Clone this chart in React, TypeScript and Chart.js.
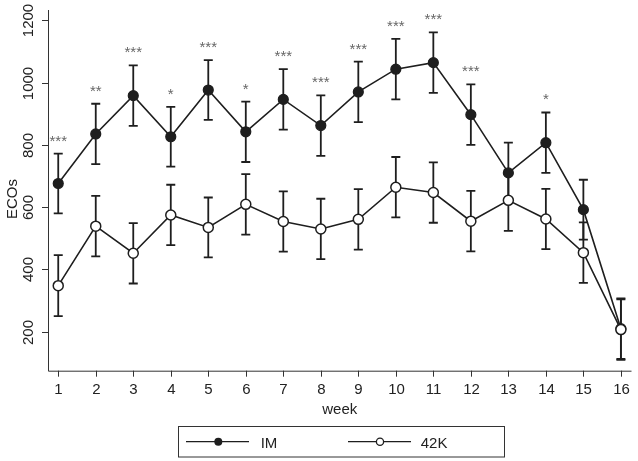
import React, { useEffect, useRef } from "react";
import { Chart, registerables } from "chart.js";

Chart.register(...registerables);

const weeks = [1, 2, 3, 4, 5, 6, 7, 8, 9, 10, 11, 12, 13, 14, 15, 16];
const imMeans = [676, 835, 958, 826, 976, 842, 946, 862, 970, 1043, 1064, 897, 710, 807, 592, 210];
const imErrors = [96, 97, 97, 96, 96, 97, 97, 97, 97, 97, 97, 97, 97, 97, 96, 97];
const k42Means = [348, 539, 452, 575, 535, 609, 554, 530, 561, 664, 647, 555, 622, 562, 454, 207];
const k42Errors = [98, 97, 97, 97, 96, 97, 97, 97, 97, 97, 97, 97, 98, 97, 97, 97];
const stars = ["***", "**", "***", "*", "***", "*", "***", "***", "***", "***", "***", "***", "", "*", "", ""];
const yTicks = [200, 400, 600, 800, 1000, 1200];
const seriesNames = ["IM", "42K"];

const FONT = "15px 'Liberation Sans', Arial, Helvetica, sans-serif";
const INK = "#1e1e1e";

const decorPlugin = {
  id: "decor",
  beforeDatasetsDraw(chart: any) {
    const { ctx, chartArea, scales } = chart;
    const xs = scales.x;
    const ys = scales.y;
    ctx.save();
    // axes
    ctx.strokeStyle = "#333";
    ctx.lineWidth = 1;
    ctx.beginPath();
    ctx.moveTo(chartArea.left + 0.5, chartArea.top);
    ctx.lineTo(chartArea.left + 0.5, chartArea.bottom + 0.5);
    ctx.lineTo(chartArea.right, chartArea.bottom + 0.5);
    ctx.stroke();
    // y ticks
    ctx.fillStyle = "#222";
    ctx.font = FONT;
    yTicks.forEach((v) => {
      const py = Math.round(ys.getPixelForValue(v)) + 0.5;
      ctx.beginPath();
      ctx.moveTo(chartArea.left - 6, py);
      ctx.lineTo(chartArea.left, py);
      ctx.stroke();
      ctx.save();
      ctx.translate(33, py);
      ctx.rotate(-Math.PI / 2);
      ctx.textAlign = "center";
      ctx.textBaseline = "alphabetic";
      ctx.fillText(String(v), 0, 0);
      ctx.restore();
    });
    // x ticks
    weeks.forEach((w) => {
      const px = Math.round(xs.getPixelForValue(w)) + 0.5;
      ctx.beginPath();
      ctx.moveTo(px, chartArea.bottom);
      ctx.lineTo(px, chartArea.bottom + 6);
      ctx.stroke();
      ctx.textAlign = "center";
      ctx.textBaseline = "alphabetic";
      ctx.fillText(String(w), px, 394);
    });
    // titles
    ctx.textAlign = "center";
    ctx.fillText("week", (chartArea.left + chartArea.right) / 2, 413.5);
    ctx.save();
    ctx.translate(16.5, 199);
    ctx.rotate(-Math.PI / 2);
    ctx.fillText("ECOs", 0, 0);
    ctx.restore();

    // error bars
    ctx.strokeStyle = INK;
    ctx.lineWidth = 1.8;
    const drawBars = (means: number[], errs: number[]) => {
      weeks.forEach((w, i) => {
        const px = xs.getPixelForValue(w);
        const top = ys.getPixelForValue(means[i] + errs[i]);
        const bot = ys.getPixelForValue(means[i] - errs[i]);
        ctx.beginPath();
        ctx.moveTo(px, top);
        ctx.lineTo(px, bot);
        ctx.moveTo(px - 4.5, top);
        ctx.lineTo(px + 4.5, top);
        ctx.moveTo(px - 4.5, bot);
        ctx.lineTo(px + 4.5, bot);
        ctx.stroke();
      });
    };
    drawBars(imMeans, imErrors);
    drawBars(k42Means, k42Errors);
    ctx.restore();
  },
  afterDatasetsDraw(chart: any) {
    const { ctx, scales } = chart;
    const xs = scales.x;
    const ys = scales.y;
    ctx.save();
    ctx.font = FONT;
    ctx.fillStyle = "#666";
    ctx.textAlign = "center";
    ctx.textBaseline = "alphabetic";
    weeks.forEach((w, i) => {
      if (!stars[i]) return;
      const px = xs.getPixelForValue(w);
      const top = ys.getPixelForValue(imMeans[i] + imErrors[i]);
      ctx.fillText(stars[i], px, top - 8);
    });
    // legend
    ctx.strokeStyle = "#333";
    ctx.lineWidth = 1;
    ctx.strokeRect(178.5, 426.5, 326, 30.5);
    ctx.strokeStyle = INK;
    ctx.lineWidth = 1.3;
    const ly = 441.7;
    ctx.beginPath();
    ctx.moveTo(186, ly);
    ctx.lineTo(249, ly);
    ctx.moveTo(348, ly);
    ctx.lineTo(411, ly);
    ctx.stroke();
    ctx.fillStyle = INK;
    ctx.beginPath();
    ctx.arc(218.3, ly, 4, 0, Math.PI * 2);
    ctx.fill();
    ctx.fillStyle = "#fff";
    ctx.beginPath();
    ctx.arc(380, ly, 3.6, 0, Math.PI * 2);
    ctx.fill();
    ctx.stroke();
    ctx.fillStyle = "#222";
    ctx.textAlign = "left";
    ctx.fillText(seriesNames[0], 260.7, 447.7);
    ctx.fillText(seriesNames[1], 420.7, 447.7);
    ctx.restore();
  },
};

export default function App() {
  const ref = useRef<HTMLCanvasElement | null>(null);
  useEffect(() => {
    if (!ref.current) return;
    const chart = new Chart(ref.current, {
      type: "line",
      data: {
        datasets: [
          {
            label: seriesNames[0],
            data: weeks.map((w, i) => ({ x: w, y: imMeans[i] })),
            borderColor: INK,
            borderWidth: 1.6,
            pointRadius: 5,
            pointBackgroundColor: INK,
            pointBorderColor: INK,
            pointBorderWidth: 1.2,
            tension: 0,
            order: 2,
          },
          {
            label: seriesNames[1],
            data: weeks.map((w, i) => ({ x: w, y: k42Means[i] })),
            borderColor: INK,
            borderWidth: 1.6,
            pointRadius: 5,
            pointBackgroundColor: "#fff",
            pointBorderColor: INK,
            pointBorderWidth: 1.5,
            tension: 0,
            order: 1,
          },
        ],
      },
      options: {
        animation: false,
        responsive: false,
        maintainAspectRatio: false,
        devicePixelRatio: 1,
        layout: { padding: { left: 48, right: 3, top: 10, bottom: 90.3 } },
        plugins: { legend: { display: false }, tooltip: { enabled: false } },
        scales: {
          x: { type: "linear", display: false, min: 0.727, max: 16.283 },
          y: { type: "linear", display: false, min: 75, max: 1233 },
        },
      },
      plugins: [decorPlugin],
    });
    return () => chart.destroy();
  }, []);
  return (
    <div style={{ position: "fixed", left: 0, top: 0, width: 638, height: 461, background: "#fff" }}>
      <canvas ref={ref} width={638} height={461} style={{ display: "block" }} />
    </div>
  );
}
